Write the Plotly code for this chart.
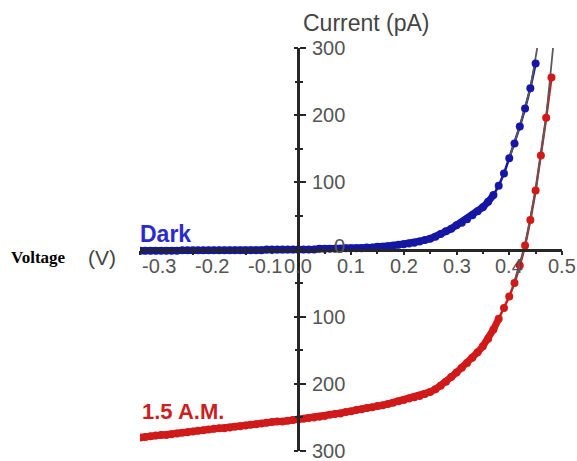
import plotly.graph_objects as go

# ---------------- data ----------------
V_DARK = [-0.30, -0.29, -0.28, -0.27, -0.26, -0.25, -0.24, -0.23, -0.22, -0.21,
          -0.20, -0.19, -0.18, -0.17, -0.16, -0.15, -0.14, -0.13, -0.12, -0.11,
          -0.10, -0.09, -0.08, -0.07, -0.06, -0.05, -0.04, -0.03, -0.02, -0.01,
          0.00, 0.01, 0.02, 0.03, 0.04, 0.05, 0.06, 0.07, 0.08, 0.09,
          0.10, 0.11, 0.12, 0.13, 0.14, 0.15, 0.16, 0.17, 0.18, 0.19,
          0.20, 0.21, 0.22, 0.23, 0.24, 0.25, 0.26, 0.27, 0.28, 0.29,
          0.30, 0.31, 0.32, 0.33, 0.34, 0.35, 0.36, 0.37, 0.38, 0.39,
          0.40, 0.41, 0.42, 0.43, 0.44, 0.45]
I_DARK = [-2, -2, -2, -2, -2, -2, -2, -2, -1, -1,
          -1, -1, -1, -1, -1, -1, -1, -1, -1, -1,
          -1, -1, -1, -1, 0, 0, 0, 0, 0, 0,
          0, 0, 0, 0, 1, 1, 1, 1, 1, 2,
          2, 2, 2, 3, 3, 4, 4, 5, 6, 7,
          8, 9, 10, 12, 14, 16, 19, 23, 27, 31,
          36, 40, 45, 51, 57, 63, 71, 81, 95, 113,
          136, 158, 183, 210, 240, 277]

V_LIGHT = [-0.30, -0.29, -0.28, -0.27, -0.26, -0.25, -0.24, -0.23, -0.22, -0.21,
           -0.20, -0.19, -0.18, -0.17, -0.16, -0.15, -0.14, -0.13, -0.12, -0.11,
           -0.10, -0.09, -0.08, -0.07, -0.06, -0.05, -0.04, -0.03, -0.02, -0.01,
           0.00, 0.01, 0.02, 0.03, 0.04, 0.05, 0.06, 0.07, 0.08, 0.09,
           0.10, 0.11, 0.12, 0.13, 0.14, 0.15, 0.16, 0.17, 0.18, 0.19,
           0.20, 0.21, 0.22, 0.23, 0.24, 0.25, 0.26, 0.27, 0.28, 0.29,
           0.30, 0.31, 0.32, 0.33, 0.34, 0.35, 0.36, 0.37, 0.38, 0.39,
           0.40, 0.41, 0.42, 0.43, 0.44, 0.45, 0.46, 0.47, 0.48]
I_LIGHT = [-280, -279, -278, -277, -276, -276, -275, -274, -273, -272,
           -271, -270, -269, -268, -267, -266, -266, -265, -264, -263,
           -262, -261, -260, -259, -258, -257, -256, -256, -255, -254,
           -253, -252, -251, -250, -249, -248, -246, -245, -244, -242,
           -241, -239, -238, -236, -235, -233, -232, -230, -228, -226,
           -224, -222, -220, -218, -215, -212, -208, -203, -197, -190,
           -183, -176, -169, -161, -153, -144, -133, -119, -103, -87,
           -70, -50, -24, 6, 44, 88, 140, 196, 256]

# straight fit lines drawn over the steep parts
V_FIT_DARK = [0.40, 0.42, 0.44, 0.453]
I_FIT_DARK = [136, 183, 240, 300]
V_FIT_LIGHT = [0.405, 0.43, 0.45, 0.47, 0.483]
I_FIT_LIGHT = [-60, 6, 88, 196, 300]

X_TICKS = [-0.3, -0.2, -0.1, 0.0, 0.1, 0.2, 0.3, 0.4, 0.5]
X_TICK_LABELS = ["-0.3", "-0.2", "-0.1", "0.0", "0.1", "0.2", "0.3", "0.4", "0.5"]
Y_TICKS = [300, 200, 100, 0, -100, -200, -300]
Y_TICK_LABELS = ["300", "200", "100", "0", "100", "200", "300"]

SERIES_NAMES = ["Dark", "1.5 A.M."]
X_TITLE_1 = "Voltage"
X_TITLE_2 = "(V)"
Y_TITLE = "Current (pA)"

# index where the dense (thick-looking) part of each series ends
DARK_DENSE_END = 68   # up to 0.38 V
LIGHT_DENSE_END = 69  # up to 0.39 V

BLUE = "#1616a4"
RED = "#d01a1a"
AXIS = "#262626"
TXT = "#555555"
SANS = "Liberation Sans, Arial, sans-serif"

fig = go.Figure()

# thick body lines where the points are dense
fig.add_trace(go.Scatter(x=V_DARK[:DARK_DENSE_END], y=I_DARK[:DARK_DENSE_END], mode="lines",
                         line=dict(color=BLUE, width=7), showlegend=False, hoverinfo="skip"))
fig.add_trace(go.Scatter(x=V_LIGHT[:LIGHT_DENSE_END], y=I_LIGHT[:LIGHT_DENSE_END], mode="lines",
                         line=dict(color=RED, width=7), showlegend=False, hoverinfo="skip"))
# thin connecting lines for the sparse steep part
fig.add_trace(go.Scatter(x=V_DARK[DARK_DENSE_END - 1:], y=I_DARK[DARK_DENSE_END - 1:], mode="lines",
                         line=dict(color=BLUE, width=2.5), showlegend=False, hoverinfo="skip"))
fig.add_trace(go.Scatter(x=V_LIGHT[LIGHT_DENSE_END - 1:], y=I_LIGHT[LIGHT_DENSE_END - 1:], mode="lines",
                         line=dict(color=RED, width=2.5), showlegend=False, hoverinfo="skip"))
# gray fit lines
fig.add_trace(go.Scatter(x=V_FIT_DARK, y=I_FIT_DARK, mode="lines",
                         line=dict(color="#5a5a5a", width=1.8), showlegend=False, hoverinfo="skip"))
fig.add_trace(go.Scatter(x=V_FIT_LIGHT, y=I_FIT_LIGHT, mode="lines",
                         line=dict(color="#5a5a5a", width=1.8), showlegend=False, hoverinfo="skip"))
# markers
fig.add_trace(go.Scatter(x=V_DARK, y=I_DARK, mode="markers", name=SERIES_NAMES[0],
                         marker=dict(color=BLUE, size=8), showlegend=False))
fig.add_trace(go.Scatter(x=V_LIGHT, y=I_LIGHT, mode="markers", name=SERIES_NAMES[1],
                         marker=dict(color=RED, size=8), showlegend=False))
# invisible trace to activate the second y axis (left half of crossing ticks)
fig.add_trace(go.Scatter(x=[None], y=[None], yaxis="y2", showlegend=False, hoverinfo="skip"))

Y0_POS = (0 - (-0.3)) / (0.5 - (-0.3))

fig.update_layout(
    width=577, height=461,
    margin=dict(l=140, r=15, t=48, b=10),
    paper_bgcolor="white", plot_bgcolor="white",
    showlegend=False,
    xaxis=dict(range=[-0.3, 0.5], anchor="free", position=0.5,
               showline=True, linecolor=AXIS, linewidth=2.5,
               ticks="outside", ticklen=4, tickwidth=2, tickcolor=AXIS,
               tickvals=X_TICKS, showticklabels=False,
               minor=dict(ticks="outside", ticklen=3, tickwidth=2, tickcolor=AXIS, dtick=0.05, tick0=0),
               showgrid=False, zeroline=False),
    yaxis=dict(range=[-300, 300], anchor="free", position=Y0_POS, side="right",
               showline=True, linecolor=AXIS, linewidth=2.5,
               ticks="outside", ticklen=6, tickwidth=2, tickcolor=AXIS,
               tick0=0, dtick=100, showticklabels=False,
               minor=dict(ticks="outside", ticklen=3, tickwidth=2, tickcolor=AXIS, dtick=50, tick0=0),
               showgrid=False, zeroline=False),
    yaxis2=dict(range=[-300, 300], anchor="free", position=Y0_POS, side="left",
                overlaying="y", showline=False,
                ticks="outside", ticklen=4, tickwidth=2, tickcolor=AXIS,
                tick0=0, dtick=100, showticklabels=False,
                minor=dict(ticks="outside", ticklen=3, tickwidth=2, tickcolor=AXIS, dtick=50, tick0=0),
                showgrid=False, zeroline=False),
)

ann = []
# x tick labels: negative ones start at the tick, the rest centred
for v, t in zip(X_TICKS, X_TICK_LABELS):
    ann.append(dict(x=v, y=0, xref="x", yref="y", text=t, showarrow=False,
                    xanchor="left" if v < 0 else "center", yanchor="middle",
                    yshift=-16, font=dict(family=SANS, size=20, color=TXT)))
# y tick labels right-aligned to the right of the axis
for v, t in zip(Y_TICKS, Y_TICK_LABELS):
    ann.append(dict(x=0, y=v, xref="x", yref="y", text=t, showarrow=False,
                    xanchor="right", yanchor="middle", xshift=49, yshift=4 if v == 0 else 0,
                    font=dict(family=SANS, size=20, color=TXT)))

ann += [
    dict(x=0, y=1, xref="x", yref="paper", text=Y_TITLE, showarrow=False,
         xanchor="left", yanchor="middle", xshift=3, yshift=25,
         font=dict(family=SANS, size=23, color="#444444")),
    dict(x=-0.3, y=0, xref="x", yref="y", text="<b>" + X_TITLE_1 + "</b>", showarrow=False,
         xanchor="left", yanchor="middle", xshift=-131, yshift=-8,
         font=dict(family="Liberation Serif, Times New Roman, serif", size=17, color="black")),
    dict(x=-0.3, y=0, xref="x", yref="y", text=X_TITLE_2, showarrow=False,
         xanchor="left", yanchor="middle", xshift=-54, yshift=-8,
         font=dict(family=SANS, size=21, color="#444444")),
    dict(x=-0.3, y=0, xref="x", yref="y", text="<b>" + SERIES_NAMES[0] + "</b>", showarrow=False,
         xanchor="left", yanchor="middle", xshift=-2, yshift=16,
         font=dict(family=SANS, size=23, color="#2a2ad0")),
    dict(x=-0.3, y=0, xref="x", yref="y", text="<b>" + SERIES_NAMES[1] + "</b>", showarrow=False,
         xanchor="left", yanchor="middle", xshift=0, yshift=-162,
         font=dict(family=SANS, size=22, color="#cc1f1f")),
]
fig.update_layout(annotations=ann)

fig.write_html("out.html")
